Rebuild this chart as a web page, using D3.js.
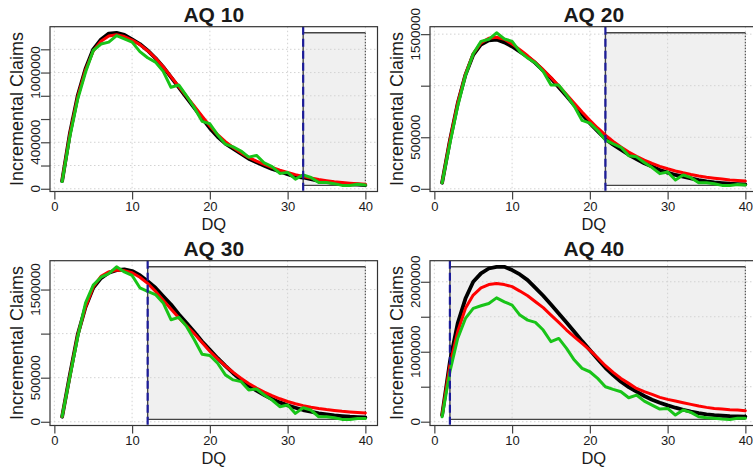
<!DOCTYPE html>
<html>
<head>
<meta charset="utf-8">
<script src="https://cdn.jsdelivr.net/npm/d3@7"></script>
<style>
  html, body { margin: 0; padding: 0; background: #ffffff; }
  svg { display: block; }
  text { font-family: "Liberation Sans", Arial, Helvetica, sans-serif; fill: #1a1a1a; }
</style>
</head>
<body>
<div id="chart"></div>
<script>
// ---------------- data ----------------
const dq = [1,2,3,4,5,6,7,8,9,10,11,12,13,14,15,16,17,18,19,20,21,22,23,24,25,26,27,28,29,30,31,32,33,34,35,36,37,38,39,40];

const panelTitles = ["AQ 10", "AQ 20", "AQ 30", "AQ 40"];
const cutoffs = [32, 22, 12, 2];

// values in thousands of claims
const black10 = [67,477,800,1030,1200,1285,1335,1342,1325,1285,1245,1190,1125,1048,960,873,785,697,609,521,448,389,345,302,258,228,199,170,149,126,105,97,82,67,59,50,44,38,35,32];
const red10   = [70,470,790,1020,1185,1270,1315,1325,1310,1280,1240,1188,1125,1050,965,880,795,710,625,540,465,405,355,310,270,238,210,183,160,140,122,106,92,80,70,61,54,48,43,38];
const green10 = [62,450,770,1000,1190,1245,1262,1318,1290,1262,1180,1127,1090,1010,873,893,800,697,580,559,463,384,360,325,272,287,222,190,132,141,82,120,97,53,53,44,29,29,38,32];

const black20 = [59,467,827,1105,1300,1400,1440,1448,1420,1380,1330,1278,1220,1147,1072,984,899,810,722,637,559,484,428,379,330,288,248,216,183,157,134,118,101,85,72,62,56,49,46,42];
const red20   = [62,470,830,1110,1310,1415,1460,1470,1450,1405,1350,1290,1225,1155,1080,1000,915,830,745,665,590,520,460,405,357,315,278,246,218,194,173,155,139,125,113,103,94,86,80,75];
const green20 = [59,440,800,1100,1310,1430,1450,1513,1454,1430,1330,1268,1220,1137,1006,1006,908,800,663,637,565,474,435,402,320,310,255,206,147,163,85,134,108,59,59,49,33,33,42,36];

const black30 = [57,532,987,1300,1520,1630,1690,1720,1728,1710,1663,1595,1520,1424,1330,1220,1120,1018,911,816,721,634,551,475,410,353,304,258,220,186,159,133,114,95,84,72,65,57,53,49];
const red30   = [60,520,980,1300,1530,1650,1700,1720,1715,1690,1640,1570,1480,1380,1280,1180,1090,1000,900,800,715,635,560,495,435,383,337,297,261,230,205,183,165,150,138,128,119,112,106,100];
const green30 = [60,510,960,1345,1550,1640,1680,1758,1700,1660,1520,1480,1443,1348,1158,1185,1082,930,767,752,664,532,475,456,361,372,304,247,171,190,95,159,133,57,57,46,27,27,38,38];

const black40 = [95,857,1405,1760,2000,2120,2190,2214,2214,2167,2105,2024,1914,1800,1676,1548,1419,1286,1152,1024,895,771,667,571,495,429,367,314,271,233,200,171,143,122,105,93,85,79,76,74];
const red40   = [95,810,1286,1620,1810,1914,1960,1976,1960,1930,1867,1800,1714,1630,1524,1420,1310,1214,1120,1024,914,800,705,619,548,476,429,390,348,319,295,271,248,224,205,190,181,171,167,157];
const green40 = [71,714,1190,1476,1620,1657,1690,1770,1714,1667,1524,1452,1419,1310,1143,1190,1048,881,762,714,619,500,462,429,343,381,295,238,181,190,95,167,133,71,57,48,38,33,48,48];

const xTicks = [0, 10, 20, 30, 40];
const yTicks10 = [0, 200000, 400000, 600000, 800000, 1000000, 1200000];
const yLabels10 = [0, 400000, 1000000];
const yTicks20 = [0, 500000, 1000000, 1500000];
const yLabels20 = [0, 500000, 1500000];
const yTicks30 = [0, 500000, 1000000, 1500000];
const yLabels30 = [0, 500000, 1500000];
const yTicks40 = [0, 500000, 1000000, 1500000, 2000000];
const yLabels40 = [0, 1000000, 2000000];

const xLabel = "DQ";
const yLabel = "Incremental Claims";

// ---------------- layout ----------------
const W = 753, H = 468;
const colLeft = [50, 430];
const rowTop = [26.7, 260.7];
const boxW = 327.5, boxH = 164.8;

const panels = [
  { title: panelTitles[0], cut: cutoffs[0], series: [black10, red10, green10], yTicks: yTicks10, yLabels: yLabels10, col: 0, row: 0 },
  { title: panelTitles[1], cut: cutoffs[1], series: [black20, red20, green20], yTicks: yTicks20, yLabels: yLabels20, col: 1, row: 0 },
  { title: panelTitles[2], cut: cutoffs[2], series: [black30, red30, green30], yTicks: yTicks30, yLabels: yLabels30, col: 0, row: 1 },
  { title: panelTitles[3], cut: cutoffs[3], series: [black40, red40, green40], yTicks: yTicks40, yLabels: yLabels40, col: 1, row: 1 }
];
const seriesColors = ["#000000", "#ff0000", "#18c418"];
const seriesWidths = [3.8, 3, 3];

const svg = d3.select("#chart").append("svg")
  .attr("width", W).attr("height", H)
  .attr("viewBox", `0 0 ${W} ${H}`);

svg.append("rect").attr("width", W).attr("height", H).attr("fill", "#fff");

function rExtend(ext) {
  const r = ext[1] - ext[0];
  return [ext[0] - 0.04 * r, ext[1] + 0.04 * r];
}

panels.forEach(p => {
  const left = colLeft[p.col], top = rowTop[p.row];
  const right = left + boxW, bottom = top + boxH;
  const vals = p.series.map(s => s.map(v => v * 1000));
  const allVals = vals.flat();
  const yExt = d3.extent(allVals);

  const x = d3.scaleLinear().domain(rExtend(d3.extent(dq))).range([left, right]);
  const y = d3.scaleLinear().domain(rExtend(yExt)).range([bottom, top]);

  const g = svg.append("g");

  // shaded region (projection area)
  const rx0 = x(p.cut), rx1 = x(dq[dq.length - 1]);
  const ry0 = y(yExt[1]), ry1 = y(yExt[0]);
  g.append("rect")
    .attr("x", rx0).attr("y", ry0)
    .attr("width", rx1 - rx0).attr("height", ry1 - ry0)
    .attr("fill", "#f0f0f0");

  // grid
  g.selectAll(".gx").data(xTicks).join("line")
    .attr("x1", d => x(d)).attr("x2", d => x(d))
    .attr("y1", top).attr("y2", bottom)
    .attr("stroke", "#d3d3d3").attr("stroke-width", 1).attr("stroke-dasharray", "1.5,2.5");
  g.selectAll(".gy").data(p.yTicks).join("line")
    .attr("x1", left).attr("x2", right)
    .attr("y1", d => y(d)).attr("y2", d => y(d))
    .attr("stroke", "#d3d3d3").attr("stroke-width", 1).attr("stroke-dasharray", "1.5,2.5");

  // shaded region borders
  g.append("line").attr("x1", rx0).attr("x2", rx1).attr("y1", ry0).attr("y2", ry0)
    .attr("stroke", "#444").attr("stroke-width", 1.4);
  g.append("line").attr("x1", rx0).attr("x2", rx1).attr("y1", ry1).attr("y2", ry1)
    .attr("stroke", "#444").attr("stroke-width", 1.4);
  g.append("line").attr("x1", rx0).attr("x2", rx0).attr("y1", ry0).attr("y2", ry1)
    .attr("stroke", "#444").attr("stroke-width", 1.4);
  g.append("line").attr("x1", rx1).attr("x2", rx1).attr("y1", ry0).attr("y2", ry1)
    .attr("stroke", "#555").attr("stroke-width", 1.2).attr("stroke-dasharray", "1.5,1.5");

  // series lines
  const line = d3.line().x((d, i) => x(dq[i])).y(d => y(d));
  vals.forEach((s, i) => {
    g.append("path").datum(s)
      .attr("d", line)
      .attr("fill", "none")
      .attr("stroke", seriesColors[i])
      .attr("stroke-width", seriesWidths[i])
      .attr("stroke-linejoin", "round")
      .attr("stroke-linecap", "round");
  });

  // cutoff dashed line
  g.append("line").attr("x1", x(p.cut)).attr("x2", x(p.cut))
    .attr("y1", top).attr("y2", bottom)
    .attr("stroke", "#1c1c9a").attr("stroke-width", 2.2).attr("stroke-dasharray", "8,4");

  // box
  g.append("rect").attr("x", left).attr("y", top).attr("width", boxW).attr("height", boxH)
    .attr("fill", "none").attr("stroke", "#333").attr("stroke-width", 1.2);

  // x axis
  const xAxis = d3.axisBottom(x).tickValues(xTicks).tickSize(8).tickPadding(2.5).tickFormat(d3.format("d"));
  const xa = g.append("g").attr("transform", `translate(0,${bottom})`).call(xAxis);
  xa.select(".domain").remove();
  xa.selectAll(".tick line").attr("stroke", "#444").attr("stroke-width", 1.2);
  xa.selectAll(".tick text").attr("font-size", "13px").attr("fill", "#1a1a1a")
    .attr("font-family", '"Liberation Sans", Arial, sans-serif');

  // y axis (ticks only; labels subset)
  const yAxis = d3.axisLeft(y).tickValues(p.yTicks).tickSize(9).tickFormat("");
  const ya = g.append("g").attr("transform", `translate(${left},0)`).call(yAxis);
  ya.select(".domain").remove();
  ya.selectAll(".tick line").attr("stroke", "#444").attr("stroke-width", 1.2);

  g.selectAll(".ylab").data(p.yLabels).join("text")
    .attr("transform", d => `translate(${left - 10},${y(d)}) rotate(-90)`)
    .attr("text-anchor", "middle")
    .attr("font-size", "13.5px")
    .text(d => d3.format("d")(d));

  // titles
  g.append("text").attr("x", (left + right) / 2).attr("y", top - 4.5)
    .attr("text-anchor", "middle").attr("font-size", "21px").attr("font-weight", "bold")
    .attr("fill", "#000")
    .text(p.title);
  g.append("text").attr("x", (left + right) / 2).attr("y", bottom + 38.5)
    .attr("text-anchor", "middle").attr("font-size", "16.5px")
    .text(xLabel);
  g.append("text")
    .attr("transform", `translate(${left - 27},${(top + bottom) / 2}) rotate(-90)`)
    .attr("text-anchor", "middle").attr("font-size", "18px")
    .text(yLabel);
});
</script>
</body>
</html>
